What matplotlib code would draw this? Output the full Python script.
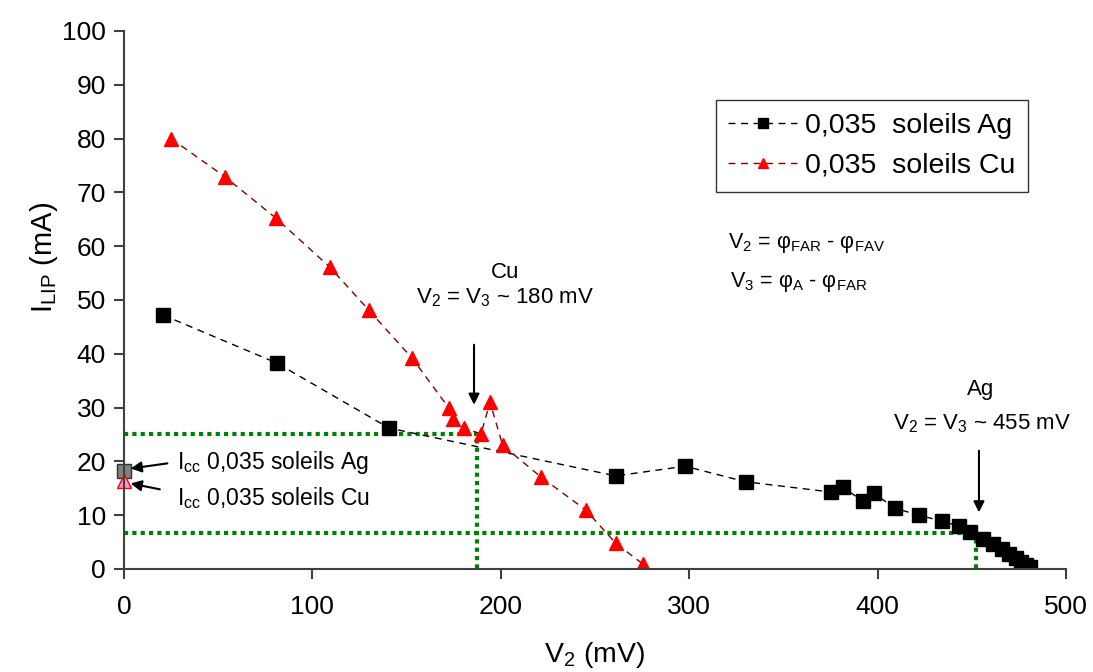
import matplotlib
matplotlib.use("Agg")
import matplotlib.pyplot as plt

plt.rcParams['font.family'] = ['Liberation Sans', 'DejaVu Sans']
plt.rcParams['mathtext.fontset'] = 'custom'
plt.rcParams['mathtext.rm'] = 'Liberation Sans'
plt.rcParams['mathtext.it'] = 'Liberation Sans:italic'
plt.rcParams['mathtext.bf'] = 'Liberation Sans:bold'

# data
ag_v = [20.7, 81, 140.7, 261, 297.8, 330, 375.3, 381.6, 392.2, 398, 409, 422,
        434, 443, 449, 456, 461, 466, 470, 473.5, 476, 479, 481]
ag_i = [47.2, 38.3, 26.2, 17.3, 19.1, 16.2, 14.3, 15.2, 12.6, 14.1, 11.3, 10.0,
        8.9, 8.0, 6.9, 5.6, 4.6, 3.7, 2.8, 2.0, 1.3, 0.7, 0.4]

cu_v = [25, 53.6, 80.7, 109.3, 130, 152.9, 172.5, 174.6, 180.5, 189.5, 194.3,
        201, 221.3, 245, 261, 275.5]
cu_i = [80, 72.9, 65.2, 56.1, 48.1, 39.2, 29.9, 27.9, 26.2, 25.1, 31.0,
        23.0, 17.1, 11.0, 4.8, 0.9]

icc_ag = 18.2
icc_cu = 16.4

# operating points (green guides)
cu_pt = (187.4, 25.0)
ag_pt = (452.2, 6.7)

fig = plt.figure(figsize=(10.93, 6.72), dpi=100)
ax = fig.add_axes([0.1134, 0.1533, 0.8619, 0.8006])

ax.plot(ag_v, ag_i, color='black', ls=(0, (5, 4)), lw=1, marker='s', ms=10.5,
        mfc='black', mec='black', label='0,035  soleils Ag')
ax.plot(cu_v, cu_i, color='#800000', ls=(0, (5, 4)), lw=1, marker='^', ms=10.5,
        mfc='red', mec='red', label='0,035  soleils Cu')

green = '#008000'
for vx, iy in (cu_pt, ag_pt):
    ax.plot([0, vx, vx], [iy, iy, 0], color=green, ls=(0, (1, 1)), lw=3, zorder=1)

ax.plot([0], [icc_ag], marker='s', ms=10, mfc='#808080', mec='#303030', ls='none', clip_on=False)
ax.plot([0], [icc_cu], marker='^', ms=10, mfc='#ff99cc', mec='red', ls='none', clip_on=False)

arw = dict(arrowstyle='-|>', color='black', lw=1.5, mutation_scale=16)
ax.annotate('', xy=(2.1, 18.6), xytext=(24.5, 19.7), arrowprops=arw)
ax.annotate('', xy=(2.1, 16.0), xytext=(20.5, 14.7), arrowprops=arw)
ax.text(28.1, 19.7, r'I$_{\mathrm{cc}}$ 0,035 soleils Ag', fontsize=16.5, va='center')
ax.text(28.1, 13.2, r'I$_{\mathrm{cc}}$ 0,035 soleils Cu', fontsize=16.5, va='center')

ax.annotate('', xy=(185.8, 30.0), xytext=(185.8, 42.2), arrowprops=arw)
ax.text(202.2, 55.2, 'Cu', fontsize=16, ha='center', va='center')
ax.text(202.2, 50.4, r'V$_2$ = V$_3$ ~ 180 mV', fontsize=16, ha='center', va='center')

ax.annotate('', xy=(453.8, 10.0), xytext=(453.8, 22.5), arrowprops=arw)
ax.text(454.4, 33.3, 'Ag', fontsize=16, ha='center', va='center')
ax.text(455.4, 27.0, r'V$_2$ = V$_3$ ~ 455 mV', fontsize=16, ha='center', va='center')

ax.text(320.6, 60.6, r'V$_2$ = φ$_{\mathrm{FAR}}$ - φ$_{\mathrm{FAV}}$', fontsize=15.5, va='center')
ax.text(321.7, 53.3, r'V$_3$ = φ$_{\mathrm{A}}$ - φ$_{\mathrm{FAR}}$', fontsize=15.5, va='center')

ax.set_xlim(0, 500)
ax.set_ylim(0, 100)
ax.set_xticks(range(0, 501, 100))
ax.set_yticks(range(0, 101, 10))
ax.tick_params(direction='out', length=7, width=1.5, color='#404040', labelsize=19)
ax.tick_params(axis='x', pad=12)
ax.tick_params(axis='y', pad=6)
for s in ('top', 'right'):
    ax.spines[s].set_visible(False)
for s in ('left', 'bottom'):
    ax.spines[s].set_color('#404040')
    ax.spines[s].set_linewidth(1.5)

ax.set_xlabel(r'V$_2$ (mV)', fontsize=20.5)
ax.xaxis.set_label_coords(0.5, -0.132)
ax.set_ylabel(r'I$_{\mathrm{LIP}}$ (mA)', fontsize=21)
ax.yaxis.set_label_coords(-0.068, 0.58)

leg = ax.legend(loc='upper left', bbox_to_anchor=(0.628, 0.872), borderaxespad=0,
                fontsize=20.5, frameon=True, fancybox=False, edgecolor='black',
                handlelength=2.4, handletextpad=0.3, markerscale=0.75,
                borderpad=0.45, labelspacing=0.5)
leg.get_frame().set_linewidth(1)

fig.savefig('out.png', dpi=100)
